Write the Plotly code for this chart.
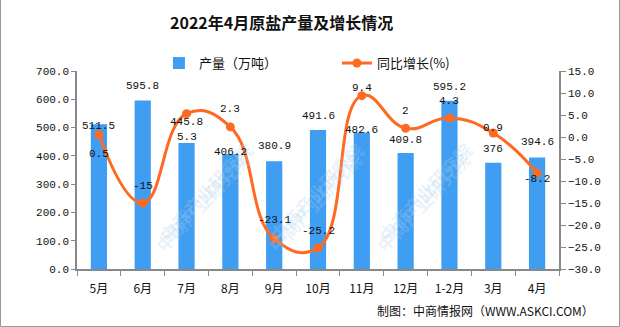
import plotly.graph_objects as go

categories = ["5月", "6月", "7月", "8月", "9月", "10月", "11月", "12月", "1-2月", "3月", "4月"]
output_values = [511.5, 595.8, 445.8, 406.2, 380.9, 491.6, 482.6, 409.8, 595.2, 376, 394.6]
growth_values = [0.5, -15, 5.3, 2.3, -23.1, -25.2, 9.4, 2, 4.3, 0.9, -8.2]
output_labels = ["511.5", "595.8", "445.8", "406.2", "380.9", "491.6", "482.6", "409.8", "595.2", "376", "394.6"]
growth_labels = ["0.5", "-15", "5.3", "2.3", "-23.1", "-25.2", "9.4", "2", "4.3", "0.9", "-8.2"]
left_ticks = [0, 100, 200, 300, 400, 500, 600, 700]
right_ticks = [-30, -25, -20, -15, -10, -5, 0, 5, 10, 15]

# label vertical offsets (px, label centre relative to mark)
bar_label_shift = [-2, 14, 21, 2, 15, 14, 2, 13, 14, 14, 15]
line_label_shift = [-19, 17, -23, 18, 19, 17, 8, 17, 17, 5, -6]

BAR = "#409EF2"
LINE = "#FF6A22"
AXIS = "#888888"
MONO = "Liberation Mono, DejaVu Sans Mono, monospace"
CJK = "Noto Sans CJK SC, sans-serif"

L, R, T, B = 77, 61, 71, 58
W, H = 620, 327
plot_w = W - L - R
plot_h = H - T - B


def px_to_paper(px, py):
    return (px - L) / plot_w, 1 - (py - T) / plot_h


fig = go.Figure()
fig.add_trace(go.Bar(
    x=categories, y=output_values, name="产量（万吨）",
    marker=dict(color=BAR, line=dict(width=0)), width=0.37,
    yaxis="y", hoverinfo="skip",
))
fig.add_trace(go.Scatter(
    x=categories, y=growth_values, name="同比增长(%)",
    mode="lines+markers", yaxis="y2",
    line=dict(color=LINE, width=3, shape="spline", smoothing=1.3),
    marker=dict(color=LINE, size=9),
    hoverinfo="skip",
))

annotations = []

# faint watermarks (drawn first so labels sit on top)
wm_positions = [(92, 192), (258, 192), (422, 192), (89, 318), (257, 318), (420, 318)]
for (lx, ly) in wm_positions:
    wx, wy = px_to_paper(lx + 58, ly - 58)
    annotations.append(dict(x=wx, y=wy, xref="paper", yref="paper", text="<b>中商产业研究院</b>",
                            showarrow=False, textangle=-47,
                            font=dict(family=CJK, size=18, color="rgba(170,205,235,0.25)")))

for c, v, t, s in zip(categories, output_values, output_labels, bar_label_shift):
    annotations.append(dict(x=c, y=v, xref="x", yref="y", text=t, showarrow=False,
                            yshift=s, font=dict(family=MONO, size=11, color="#111")))
for c, v, t, s in zip(categories, growth_values, growth_labels, line_label_shift):
    annotations.append(dict(x=c, y=v, xref="x", yref="y2", text=t, showarrow=False,
                            yshift=s, font=dict(family=MONO, size=11, color="#111")))

tx, ty = px_to_paper(281, 22)
annotations.append(dict(x=tx, y=ty, xref="paper", yref="paper", xanchor="center", yanchor="middle",
                        text="<b>2022年4月原盐产量及增长情况</b>",
                        showarrow=False, font=dict(family=CJK, size=16, color="#111")))
fx, fy = px_to_paper(596, 310)
annotations.append(dict(x=fx, y=fy, xref="paper", yref="paper", xanchor="right", yanchor="middle",
                        text="制图：中商情报网（WWW.ASKCI.COM）", showarrow=False,
                        font=dict(family=CJK, size=12, color="#111")))

fig.update_layout(
    width=W, height=H,
    margin=dict(l=L, r=R, t=T, b=B),
    paper_bgcolor="white", plot_bgcolor="white",
    showlegend=True,
    legend=dict(orientation="h", x=0.17, y=1.04, xanchor="left", yanchor="middle",
                font=dict(family=CJK, size=13, color="#111"), entrywidth=133,
                bgcolor="rgba(0,0,0,0)"),
    xaxis=dict(range=[-0.5, 10.5], showline=True, linecolor=AXIS, linewidth=1.5, ticks="outside",
               tickson="boundaries", ticklen=5, tickcolor=AXIS, showgrid=False,
               tickfont=dict(family=CJK, size=12, color="#111"), ticklabelstandoff=8),
    yaxis=dict(range=[0, 700], tickvals=left_ticks, tickformat=".1f", showline=True, linecolor=AXIS,
               linewidth=1.5, ticks="outside", ticklen=4, tickcolor=AXIS, showgrid=False, zeroline=False,
               tickfont=dict(family=MONO, size=11, color="#111")),
    yaxis2=dict(range=[-30, 15], tickvals=right_ticks, tickformat=".1f", overlaying="y", side="right",
                showline=True, linecolor=AXIS, linewidth=1.5, ticks="outside", ticklen=5, tickcolor=AXIS,
                showgrid=False, zeroline=False, tickfont=dict(family=MONO, size=11, color="#111")),
    annotations=annotations,
)

fig.add_shape(type="rect", xref="paper", yref="paper",
              x0=px_to_paper(0.5, 0)[0], x1=px_to_paper(619.5, 0)[0],
              y0=px_to_paper(0, 326.5)[1], y1=px_to_paper(0, -5)[1],
              line=dict(color="#999999", width=1), layer="below")

fig.write_html("out.html")
